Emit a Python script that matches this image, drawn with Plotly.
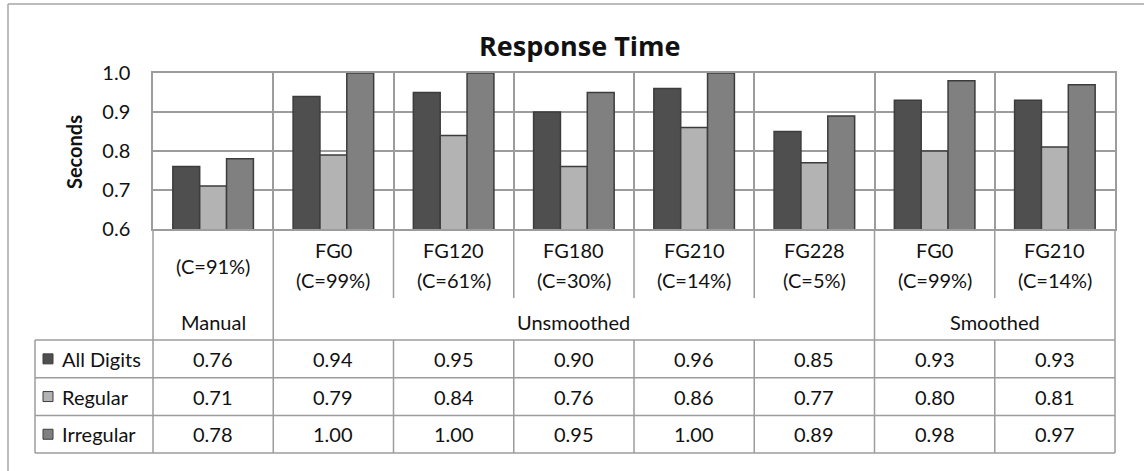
import plotly.graph_objects as go

# ---- data -------------------------------------------------------------
fg_labels = ["", "FG0", "FG120", "FG180", "FG210", "FG228", "FG0", "FG210"]
coverage = ["(C=91%)", "(C=99%)", "(C=61%)", "(C=30%)", "(C=14%)", "(C=5%)", "(C=99%)", "(C=14%)"]
group_names = ["Manual", "Unsmoothed", "Smoothed"]
group_sizes = [1, 5, 2]

series_names = ["All Digits", "Regular", "Irregular"]
all_digits = [0.76, 0.94, 0.95, 0.90, 0.96, 0.85, 0.93, 0.93]
regular = [0.71, 0.79, 0.84, 0.76, 0.86, 0.77, 0.80, 0.81]
irregular = [0.78, 1.00, 1.00, 0.95, 1.00, 0.89, 0.98, 0.97]

y_ticks = [0.6, 0.7, 0.8, 0.9, 1.0]

# ---- styling ----------------------------------------------------------
W, H = 1144, 471
L, R, T, B = 153, 1115, 73, 229          # plot area in pixels
TABLE_LEFT = 35
HEADER_BOTTOM = 340
ROW_H = 37.7
SEP_BOTTOM = 298
FONT = "Lato"
FONT_SIZE = 20
TXT = "#111111"
GRID = "#9c9c9c"
EDGE = "#3c3c3c"
colors = ["#4f4f4f", "#b3b3b3", "#808080"]

n = len(all_digits)
xs = list(range(n))


def pxx(x):
    return (x - L) / (R - L)


def pxy(y):
    return (B - y) / (B - T)


fig = go.Figure()
for name, vals, col in zip(series_names, [all_digits, regular, irregular], colors):
    fig.add_trace(go.Bar(
        x=xs, y=vals, name=name,
        marker=dict(color=col, line=dict(color=EDGE, width=1.5)),
        showlegend=False,
    ))

shapes = []
annotations = []


def line(x0, y0, x1, y1, color=GRID, width=1.5):
    shapes.append(dict(type="line", xref="paper", yref="paper",
                       x0=pxx(x0), y0=pxy(y0), x1=pxx(x1), y1=pxy(y1),
                       line=dict(color=color, width=width), layer="above"))


# outer chart frame (top and left edges)
line(8, 4, W + 5, 4, color="#a6a6a6", width=1.5)
line(8, 4, 8, H + 5, color="#a6a6a6", width=1.5)

# column boundaries in pixels
col_w = (R - L) / n
bounds = [L + i * col_w for i in range(n + 1)]
group_edges = [0]
for s in group_sizes:
    group_edges.append(group_edges[-1] + s)

table_bottom = HEADER_BOTTOM + 3 * ROW_H
for i, bx in enumerate(bounds):
    if i in group_edges:
        line(bx, B, bx, table_bottom)
    else:
        line(bx, B, bx, SEP_BOTTOM)
        line(bx, HEADER_BOTTOM, bx, table_bottom)

# table horizontal lines and left edge
for r in range(4):
    yy = HEADER_BOTTOM + r * ROW_H
    line(TABLE_LEFT, yy, R, yy)
line(TABLE_LEFT, HEADER_BOTTOM, TABLE_LEFT, table_bottom)

# category labels
for i in range(n):
    cx = (bounds[i] + bounds[i + 1]) / 2
    if fg_labels[i]:
        annotations.append(dict(x=pxx(cx), y=pxy(250), text=fg_labels[i]))
        annotations.append(dict(x=pxx(cx), y=pxy(280), text=coverage[i]))
    else:
        annotations.append(dict(x=pxx(cx), y=pxy(266), text=coverage[i]))

# group labels
for g, name in enumerate(group_names):
    cx = (bounds[group_edges[g]] + bounds[group_edges[g + 1]]) / 2
    annotations.append(dict(x=pxx(cx), y=pxy(322), text=name))

# data table rows
for r, (name, vals, col) in enumerate(zip(series_names, [all_digits, regular, irregular], colors)):
    cy = HEADER_BOTTOM + (r + 0.5) * ROW_H
    shapes.append(dict(type="rect", xref="paper", yref="paper",
                       x0=pxx(43), x1=pxx(53), y0=pxy(cy - 5), y1=pxy(cy + 5),
                       fillcolor=col, line=dict(color=EDGE, width=1), layer="above"))
    annotations.append(dict(x=pxx(60), y=pxy(cy), text=name, xanchor="left"))
    for i in range(n):
        cx = (bounds[i] + bounds[i + 1]) / 2
        annotations.append(dict(x=pxx(cx), y=pxy(cy), text=f"{vals[i]:.2f}"))

for a in annotations:
    a.setdefault("xanchor", "center")
    a.update(xref="paper", yref="paper", yanchor="middle", showarrow=False,
             font=dict(family=FONT, size=FONT_SIZE, color=TXT))

# title and axis title
annotations.append(dict(x=pxx(579), y=pxy(45), xref="paper", yref="paper",
                        text="<b>Response Time</b>", showarrow=False,
                        xanchor="center", yanchor="middle",
                        font=dict(family="Open Sans", size=27, color=TXT)))
annotations.append(dict(x=pxx(74), y=pxy(152), xref="paper", yref="paper",
                        text="<b>Seconds</b>", showarrow=False, textangle=-90,
                        xanchor="center", yanchor="middle",
                        font=dict(family=FONT, size=20, color=TXT)))

fig.update_layout(
    width=W, height=H, autosize=False,
    margin=dict(l=L, r=W - R, t=T, b=H - B, pad=0),
    paper_bgcolor="white", plot_bgcolor="white",
    barmode="group", bargap=0.33, bargroupgap=0,
    shapes=shapes, annotations=annotations,
    showlegend=False,
    xaxis=dict(range=[-0.5, n - 0.5], tickvals=[i - 0.5 for i in range(n + 1)],
               showticklabels=False, ticks="", showgrid=True, gridcolor=GRID,
               gridwidth=1.5, zeroline=False, showline=True, linecolor=GRID,
               linewidth=1.5, mirror=True, fixedrange=True),
    yaxis=dict(range=[0.6, 1.0], tickvals=y_ticks, tickformat=".1f",
               ticks="", ticklabelstandoff=17, showgrid=True, gridcolor=GRID,
               gridwidth=1.5, zeroline=False, showline=True, linecolor=GRID,
               linewidth=1.5, mirror=True,
               tickfont=dict(family=FONT, size=20, color=TXT), fixedrange=True),
)

fig.write_html("out.html")
